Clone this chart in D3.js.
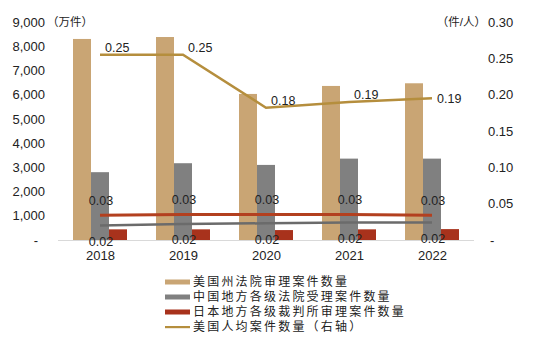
<!DOCTYPE html>
<html><head><meta charset="utf-8">
<script src="https://cdn.jsdelivr.net/npm/d3@7"></script>
<style>body{margin:0;background:#fff}svg{display:block;font-family:"Liberation Sans",Arial,"Noto Sans CJK SC",sans-serif}</style>
</head><body><svg id="c" width="536" height="345"></svg>
<script>
const years = ["2018","2019","2020","2021","2022"];
const usCases = [8300, 8380, 6030, 6360, 6470];
const cnCases = [2800, 3170, 3100, 3360, 3360];
const jpCases = [440, 440, 410, 440, 450];
const usPerCap = [0.255, 0.255, 0.182, 0.190, 0.195];
const jpPerCap = [0.034, 0.035, 0.035, 0.035, 0.034];
const cnPerCap = [0.020, 0.022, 0.023, 0.024, 0.024];
const usLabels = ["0.25","0.25","0.18","0.19","0.19"];
const jpLabels = ["0.03","0.03","0.03","0.03","0.03"];
const cnLabels = ["0.02","0.02","0.02","0.02","0.02"];
const leftTicks = [0,1000,2000,3000,4000,5000,6000,7000,8000,9000];
const rightTicks = [0,0.05,0.10,0.15,0.20,0.25,0.30];
const legendNames = ["美国州法院审理案件数量","中国地方各级法院受理案件数量","日本地方各级裁判所审理案件数量","美国人均案件数量（右轴）"];

const C = {tan:"#c9a574", gray:"#808080", red:"#a8321c", gold:"#b58e3d", redLine:"#b3401f", grayLine:"#6b6b6b", text:"#222"};
const svg = d3.select("#c");
const x = d3.scalePoint().domain(years).range([58.5,473.5]).padding(0.5);
const xs = d3.scaleBand().domain([0,1,2]).range([-27,27]);
const yL = d3.scaleLinear().domain([0,9000]).range([240,22]);
const yR = d3.scaleLinear().domain([0,0.3]).range([240,22]);

// left axis
const fmtL = d => d===0 ? "-" : d3.format(",")(d);
const gl = svg.append("g").attr("transform","translate(45,0)")
  .call(d3.axisLeft(yL).tickValues(leftTicks).tickFormat(fmtL).tickSize(0).tickPadding(0));
gl.select(".domain").remove();
gl.selectAll("text").attr("font-size",13).attr("fill",C.text).attr("font-family","Liberation Sans, Arial")
  .attr("dx", d => d===0 ? -7 : 0);
svg.append("text").attr("x",47).attr("y",yL(9000)).attr("dy","0.35em").attr("font-size",11.5).attr("fill",C.text)
  .text("（万件）");

// right axis
const fmtR = d => d===0 ? "-" : d3.format(".2f")(d);
const gr = svg.append("g").attr("transform","translate(488,0)")
  .call(d3.axisRight(yR).tickValues(rightTicks).tickFormat(fmtR).tickSize(0).tickPadding(0));
gr.select(".domain").remove();
gr.selectAll("text").attr("font-size",13).attr("fill",C.text).attr("font-family","Liberation Sans, Arial")
  .attr("dx", d => d===0 ? 2 : 0);
svg.append("text").attr("x",486).attr("y",yR(0.3)).attr("dy","0.35em").attr("text-anchor","end").attr("font-size",11.5).attr("fill",C.text)
  .text("（件/人）");

// bars
const series = [usCases, cnCases, jpCases];
const barColors = [C.tan, C.gray, C.red];
series.forEach((vals,i)=>{
  svg.append("g").selectAll("rect").data(vals).join("rect")
    .attr("x",(d,j)=>x(years[j])+xs(i)).attr("width",xs.bandwidth())
    .attr("y",d=>yL(d)).attr("height",d=>yL(0)-yL(d)).attr("fill",barColors[i]);
});

// baseline
svg.append("line").attr("x1",58).attr("x2",474).attr("y1",240.5).attr("y2",240.5).attr("stroke","#d9d9d9").attr("stroke-width",1);

// x labels
const gx = svg.append("g").attr("transform","translate(0,240)")
  .call(d3.axisBottom(x).tickSize(0).tickPadding(11));
gx.select(".domain").remove();
gx.selectAll("text").attr("font-size",13).attr("fill",C.text).attr("font-family","Liberation Sans, Arial");

// lines
const line = d3.line().x((d,i)=>x(years[i])).y(d=>yR(d));
svg.append("path").datum(cnPerCap).attr("d",line).attr("fill","none").attr("stroke",C.grayLine).attr("stroke-width",2.5);
svg.append("path").datum(jpPerCap).attr("d",line).attr("fill","none").attr("stroke",C.redLine).attr("stroke-width",3);
svg.append("path").datum(usPerCap).attr("d",line).attr("fill","none").attr("stroke",C.gold).attr("stroke-width",2.5);

// data labels
svg.append("g").selectAll("text").data(usPerCap).join("text")
  .attr("x",(d,i)=>x(years[i])+5).attr("y",(d,i)=>yR(d)-(i===4?0:7)).attr("dy","0.35em")
  .attr("font-size",12.5).attr("fill",C.text).text((d,i)=>usLabels[i]);
svg.append("g").selectAll("text").data(jpPerCap).join("text")
  .attr("x",(d,i)=>x(years[i])+1).attr("y",(d,i)=>yR(d)-15).attr("dy","0.35em").attr("text-anchor","middle")
  .attr("font-size",12.5).attr("fill",C.text).text((d,i)=>jpLabels[i]);
svg.append("g").selectAll("text").data(cnPerCap).join("text")
  .attr("x",(d,i)=>x(years[i])+1).attr("y",(d,i)=>yR(d)+16).attr("dy","0.35em").attr("text-anchor","middle")
  .attr("font-size",12.5).attr("fill",C.text).text((d,i)=>cnLabels[i]);

// legend
const lg = svg.append("g").attr("transform","translate(165,282)");
const legColors = [C.tan, C.gray, C.red, C.gold];
legendNames.forEach((n,i)=>{
  const g = lg.append("g").attr("transform",`translate(0,${i*15})`);
  if(i<3) g.append("rect").attr("x",0).attr("y",-2.5).attr("width",25).attr("height",5).attr("fill",legColors[i]);
  else g.append("rect").attr("x",0).attr("y",-1).attr("width",25).attr("height",2.2).attr("fill",legColors[i]);
  g.append("text").attr("x",28).attr("y",0).attr("dy","0.36em").attr("font-size",12).attr("letter-spacing",2.2)
    .attr("font-family","Liberation Sans, Noto Sans CJK SC").attr("fill",C.text).text(n);
});
</script></body></html>
